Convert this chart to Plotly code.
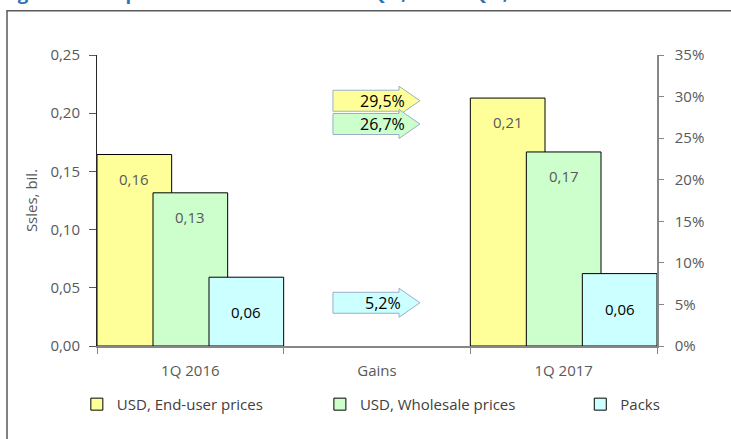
import plotly.graph_objects as go

# Categories on the shared x axis
periods = ["1Q 2016", "Gains", "1Q 2017"]

# Sales, USD bil. (None for the "Gains" slot)
end_user_usd = [0.1645, None, 0.2130]
wholesale_usd = [0.1316, None, 0.1667]
packs = [0.0591, None, 0.0622]

# Growth 1Q 2017 vs 1Q 2016, plotted on the right (percent) axis
gains = [0.295, 0.267, 0.052]

series_names = ["USD, End-user prices", "USD, Wholesale prices", "Packs"]
title_text = "Figure 2. FPD pharmaceutical market in Q 1, 2016 – Q 1, 2017"

FONT = "Open Sans"
fills = ["#FFFF99", "#CCFFCC", "#CCFFFF"]
label_colors = ["#595959", "#595959", "#000000"]
bar_offsets = [-0.5, -0.2, 0.1]
bar_width = 0.4
label_shift = [-24, -24, -35]
legend_ids = ["legend", "legend2", "legend3"]
legend_x = [-0.036, 0.398, 0.863]


def fmt_comma(v, digits):
    return f"{v:.{digits}f}".replace(".", ",")


fig = go.Figure()

series = [end_user_usd, wholesale_usd, packs]
for name, vals, fill, off, lg in zip(series_names, series, fills, bar_offsets, legend_ids):
    fig.add_trace(go.Bar(
        x=periods, y=vals, name=name, legend=lg,
        offset=off, width=bar_width,
        marker=dict(color=fill, line=dict(color="#000000", width=1)),
        hoverinfo="skip",
    ))

# keeps the right-hand percent axis alive
fig.add_trace(go.Scatter(x=[], y=[], yaxis="y2", showlegend=False, hoverinfo="skip"))

annotations = []
# value labels inside the bars
for vals, off, col, sh in zip(series, bar_offsets, label_colors, label_shift):
    for i, v in enumerate(vals):
        if v is None:
            continue
        annotations.append(dict(
            x=i + off + bar_width / 2, y=v, xref="x", yref="y",
            text=fmt_comma(v, 2), showarrow=False, yshift=sh,
            font=dict(family=FONT, size=15, color=col),
        ))

# gain arrows in the "Gains" column, centred on the gain value
shapes = []
gx = periods.index("Gains")
left, neck, tip = gx - 0.236, gx + 0.118, gx + 0.230
for g, fill in zip(gains, fills):
    path = (f"M{left},10.5 L{neck},10.5 L{neck},14.5 L{tip},0 "
            f"L{neck},-14.5 L{neck},-10.5 L{left},-10.5 Z")
    shapes.append(dict(
        type="path", path=path, xref="x", yref="y2",
        ysizemode="pixel", yanchor=g,
        fillcolor=fill, line=dict(color="#9AAFC7", width=1), layer="above",
    ))
    annotations.append(dict(
        x=gx + 0.03, y=g, xref="x", yref="y2",
        text=fmt_comma(g * 100, 1) + "%", showarrow=False,
        font=dict(family=FONT, size=16, color="#000000"),
    ))

# outer frame
shapes.append(dict(
    type="rect", xref="paper", yref="paper",
    x0=-0.1607, x1=1.3, y0=-0.6, y1=1.152,
    line=dict(color="#595959", width=1.5), fillcolor="rgba(0,0,0,0)", layer="below",
))

annotations.append(dict(
    x=-0.173, y=1.166, xref="paper", yref="paper", xanchor="left", yanchor="bottom",
    text=f"<b>{title_text}</b>", showarrow=False,
    font=dict(family=FONT, size=18.5, color="#2E74B5"),
))

tick_font = dict(family=FONT, size=15, color="#595959")
legend_font = dict(family=FONT, size=15, color="#404040")

legends = {}
for lg, lx in zip(legend_ids, legend_x):
    legends[lg] = dict(
        orientation="h", x=lx, xanchor="left", y=-0.144, yanchor="top",
        font=legend_font, bgcolor="rgba(0,0,0,0)",
    )

fig.update_layout(
    width=731, height=439,
    margin=dict(l=97, r=74, t=55, b=93),
    paper_bgcolor="white", plot_bgcolor="white",
    separators=", ",
    barmode="overlay",
    showlegend=True,
    xaxis=dict(
        type="category", categoryorder="array", categoryarray=periods,
        range=[-0.5, 2.5], tickson="boundaries",
        ticks="outside", ticklen=6, tickcolor="#868686",
        showline=True, linecolor="#868686", linewidth=1.5,
        showgrid=False, tickfont=tick_font, ticklabelstandoff=10,
    ),
    yaxis=dict(
        range=[0, 0.25], dtick=0.05, tickformat=".2f",
        ticks="outside", ticklen=7, tickcolor="#595959",
        showline=True, linecolor="#262626", linewidth=1,
        showgrid=False, zeroline=False, tickfont=tick_font,
        ticklabelstandoff=6,
        title=dict(text="Ssles, bil.", font=tick_font, standoff=9),
    ),
    yaxis2=dict(
        overlaying="y", side="right",
        range=[0, 0.35], dtick=0.05, tickformat=".0%",
        ticks="outside", ticklen=5, tickcolor="#868686",
        showline=True, linecolor="#868686", linewidth=1.5,
        showgrid=False, zeroline=False, tickfont=tick_font,
        ticklabelstandoff=8,
    ),
    shapes=shapes,
    annotations=annotations,
    **legends,
)

fig.write_html("out.html")
